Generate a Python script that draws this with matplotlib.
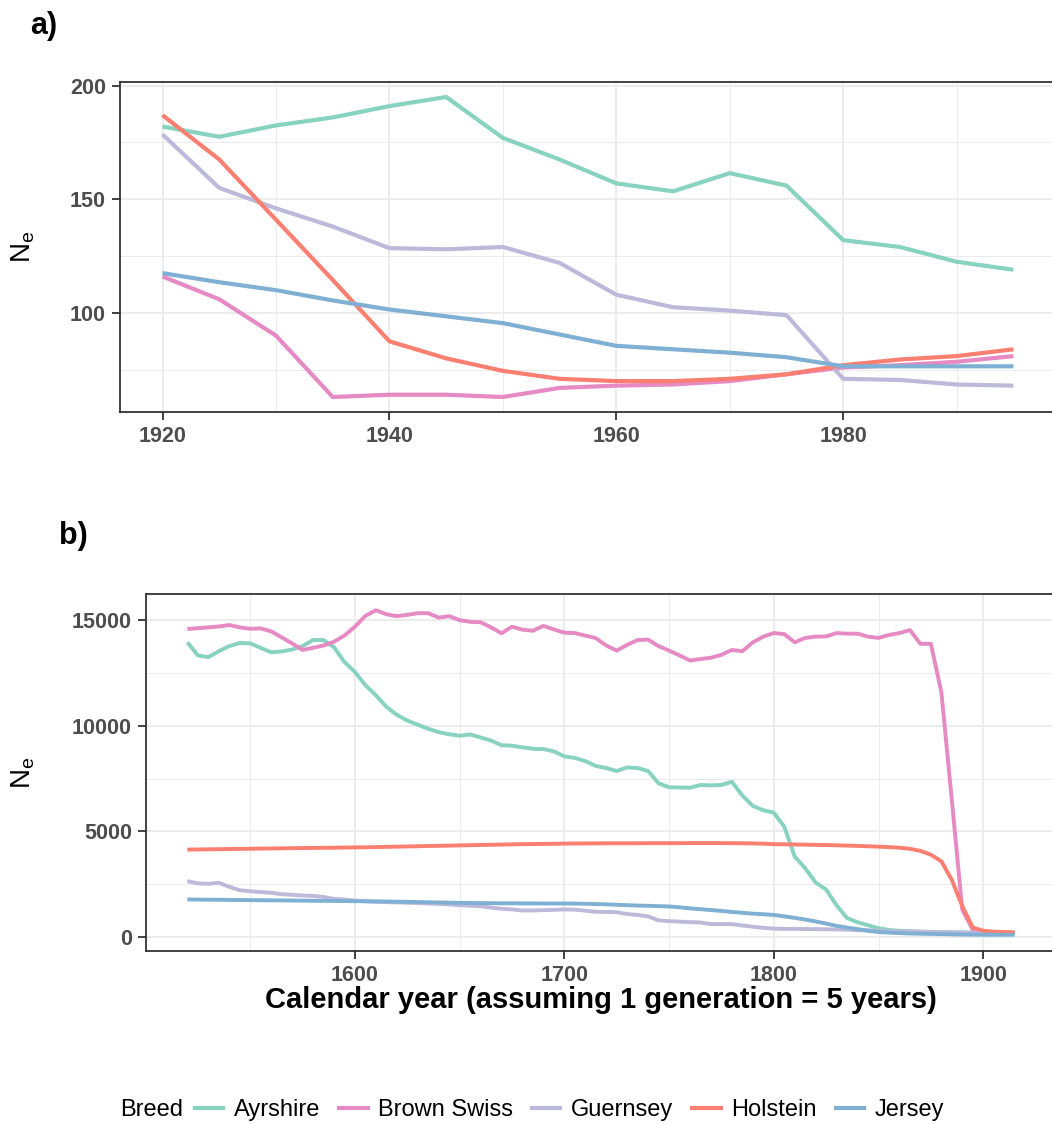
import matplotlib
matplotlib.use("Agg")
import matplotlib.pyplot as plt
import numpy as np
from matplotlib.lines import Line2D
from matplotlib.ticker import MultipleLocator

plt.rcParams['font.family'] = ['Liberation Sans', 'DejaVu Sans']

breeds = ["Ayrshire", "Brown Swiss", "Guernsey", "Holstein", "Jersey"]
colors = ["#88D2C0", "#E68AC4", "#BDB9DA", "#FA7F70", "#7FB0D4"]

# panel a: recent Ne, one value every 5 years
years_a = [1920, 1925, 1930, 1935, 1940, 1945, 1950, 1955,
           1960, 1965, 1970, 1975, 1980, 1985, 1990, 1995]
ayrshire_a = [182, 177.5, 182.5, 186, 191, 195, 177, 167.5,
              157, 153.5, 161.5, 156, 132, 129, 122.5, 119]
brownswiss_a = [116, 106, 90, 63, 64, 64, 63, 67,
                68, 68.5, 70, 73, 76, 77, 78.5, 81]
guernsey_a = [178.5, 155, 146, 138, 128.5, 128, 129, 122,
              108, 102.5, 101, 99, 71, 70.5, 68.5, 68]
holstein_a = [187, 167.5, 141, 114.5, 87.5, 80, 74.5, 71,
              70, 70, 71, 73, 77, 79.5, 81, 84]
jersey_a = [117.5, 113.5, 110, 105.5, 101.5, 98.5, 95.5, 90.5,
            85.5, 84, 82.5, 80.5, 76.5, 76.5, 76.5, 76.5]

# panel b: historical Ne, 1520 to 1915 every 5 years
years_b = list(range(1520, 1920, 5))
ayrshire_b = [13950, 13330, 13250, 13530, 13770, 13920, 13900, 13690, 13480, 13520,
              13610, 13770, 14060, 14060, 13720, 13020, 12550, 11920, 11450, 10900,
              10520, 10250, 10050, 9860, 9700, 9600, 9530, 9590, 9450, 9300,
              9080, 9060, 8980, 8910, 8900, 8790, 8550, 8480, 8330, 8100,
              8000, 7860, 8030, 8000, 7860, 7280, 7090, 7080, 7070, 7200,
              7180, 7200, 7350, 6700, 6210, 6000, 5890, 5230, 3810, 3260,
              2580, 2250, 1500, 900, 700, 560, 420, 340, 300, 280,
              260, 250, 240, 230, 220, 210, 200, 200, 200, 200]
brownswiss_b = [14580, 14620, 14660, 14700, 14770, 14660, 14590, 14610, 14470, 14190,
                13900, 13590, 13690, 13800, 13980, 14270, 14690, 15200, 15470, 15280,
                15190, 15250, 15330, 15330, 15120, 15190, 15000, 14920, 14900, 14660,
                14380, 14690, 14550, 14500, 14730, 14560, 14410, 14390, 14270, 14150,
                13800, 13560, 13830, 14060, 14080, 13770, 13560, 13330, 13090, 13160,
                13220, 13360, 13590, 13530, 13950, 14220, 14390, 14340, 13950, 14160,
                14220, 14230, 14390, 14360, 14360, 14220, 14160, 14300, 14390, 14530,
                13880, 13880, 11600, 6500, 1300, 350, 250, 220, 200, 190]
guernsey_b = [2650, 2540, 2520, 2570, 2380, 2220, 2170, 2130, 2100, 2030,
              2000, 1970, 1950, 1900, 1810, 1780, 1730, 1700, 1670, 1655,
              1640, 1625, 1610, 1590, 1575, 1545, 1510, 1485, 1460, 1400,
              1340, 1310, 1260, 1260, 1275, 1290, 1310, 1300, 1250, 1200,
              1190, 1180, 1090, 1050, 980, 790, 755, 730, 710, 690,
              615, 615, 615, 550, 490, 440, 400, 390, 390, 380,
              380, 370, 360, 350, 330, 320, 300, 280, 270, 260,
              250, 240, 230, 220, 210, 200, 190, 185, 180, 180]
holstein_b = [4140, 4150, 4155, 4160, 4170, 4175, 4180, 4190, 4195, 4200,
              4210, 4215, 4220, 4225, 4230, 4240, 4245, 4250, 4260, 4270,
              4280, 4290, 4300, 4310, 4320, 4330, 4340, 4350, 4360, 4370,
              4380, 4390, 4400, 4405, 4410, 4415, 4425, 4430, 4430, 4435,
              4440, 4440, 4440, 4440, 4445, 4445, 4445, 4445, 4450, 4450,
              4450, 4450, 4445, 4440, 4435, 4420, 4400, 4390, 4385, 4375,
              4365, 4355, 4345, 4330, 4315, 4300, 4280, 4260, 4230, 4180,
              4080, 3900, 3590, 2710, 1460, 460, 300, 260, 240, 230]
jersey_b = [1780, 1775, 1770, 1765, 1760, 1755, 1750, 1745, 1740, 1735,
            1730, 1725, 1720, 1715, 1710, 1705, 1700, 1695, 1690, 1685,
            1675, 1670, 1660, 1650, 1640, 1630, 1620, 1615, 1610, 1605,
            1600, 1598, 1595, 1592, 1590, 1590, 1590, 1585, 1575, 1565,
            1550, 1530, 1510, 1495, 1480, 1465, 1450, 1410, 1360, 1320,
            1280, 1240, 1190, 1150, 1110, 1080, 1050, 980, 910, 830,
            740, 640, 530, 450, 380, 300, 240, 210, 190, 170,
            160, 150, 140, 130, 120, 115, 110, 110, 110, 110]

series_a = [ayrshire_a, brownswiss_a, guernsey_a, holstein_a, jersey_a]
series_b = [ayrshire_b, brownswiss_b, guernsey_b, holstein_b, jersey_b]

W, H = 1052, 1124
fig = plt.figure(figsize=(W / 100, H / 100), dpi=100)


def px_axes(left, top, right, bottom):
    return fig.add_axes([left / W, 1 - bottom / H, (right - left) / W, (bottom - top) / H])


def gg_limits(vals):
    lo, hi = min(vals), max(vals)
    pad = (hi - lo) * 0.05
    return lo - pad, hi + pad


def style(ax, xmaj, ymaj):
    ax.xaxis.set_major_locator(MultipleLocator(xmaj))
    ax.xaxis.set_minor_locator(MultipleLocator(xmaj / 2))
    ax.yaxis.set_major_locator(MultipleLocator(ymaj))
    ax.yaxis.set_minor_locator(MultipleLocator(ymaj / 2))
    ax.grid(which='major', color='#EBEBEB', linewidth=1.3)
    ax.grid(which='minor', color='#EBEBEB', linewidth=0.7)
    ax.set_axisbelow(True)
    for s in ax.spines.values():
        s.set_color('#333333')
        s.set_linewidth(1.3)
    ax.tick_params(which='major', length=6, width=1.3, color='#333333',
                   labelsize=15.5, labelcolor='#4D4D4D', pad=4)
    ax.tick_params(which='minor', length=0)
    for lab in ax.get_xticklabels() + ax.get_yticklabels():
        lab.set_fontweight('bold')


# panel a (the right edge runs just past the canvas, as in the cropped original)
left_a, right_a = 120, 1056
ax1 = px_axes(left_a, 82, right_a, 412)
for vals, c in zip(series_a, colors):
    ax1.plot(years_a, vals, color=c, linewidth=3.0, solid_capstyle='butt')
ax1.set_xlim(*gg_limits(years_a))
ax1.set_ylim(*gg_limits([v for s in series_a for v in s]))
style(ax1, 20, 50)
ax1.set_ylabel(r'N$_\mathregular{e}$', fontsize=20)
ax1.yaxis.set_label_coords((37 - left_a) / (right_a - left_a), 0.5)

# panel b
left_b, right_b = 146, 1056
ax2 = px_axes(left_b, 594, right_b, 951)
for vals, c in zip(series_b, colors):
    ax2.plot(years_b, vals, color=c, linewidth=2.8, solid_capstyle='butt')
ax2.set_xlim(*gg_limits(years_b))
ax2.set_ylim(*gg_limits([v for s in series_b for v in s]))
style(ax2, 100, 5000)
ax2.set_ylabel(r'N$_\mathregular{e}$', fontsize=20)
ax2.yaxis.set_label_coords((37 - left_b) / (right_b - left_b), 0.5)
ax2.set_xlabel('Calendar year (assuming 1 generation = 5 years)',
               fontsize=21, fontweight='bold', labelpad=0)

fig.text(30 / W, 1 - 26 / H, 'a)', fontsize=22, fontweight='bold', va='center', ha='left')
fig.text(59 / W, 1 - 536 / H, 'b)', fontsize=22, fontweight='bold', va='center', ha='left')

# legend at the bottom, title on the left
fig.text(120 / W, 1 - 1110 / H, 'Breed', fontsize=17, va='center', ha='left')
handles = [Line2D([], [], color=c, linewidth=3.0) for c in colors]
fig.legend(handles, breeds, loc='center left', bbox_to_anchor=(195 / W, 1 - 1110 / H),
           ncol=5, frameon=False, fontsize=17, handlelength=1.2,
           handletextpad=0.45, columnspacing=0.8, borderaxespad=0, borderpad=0)

fig.savefig('out.png', dpi=100)
